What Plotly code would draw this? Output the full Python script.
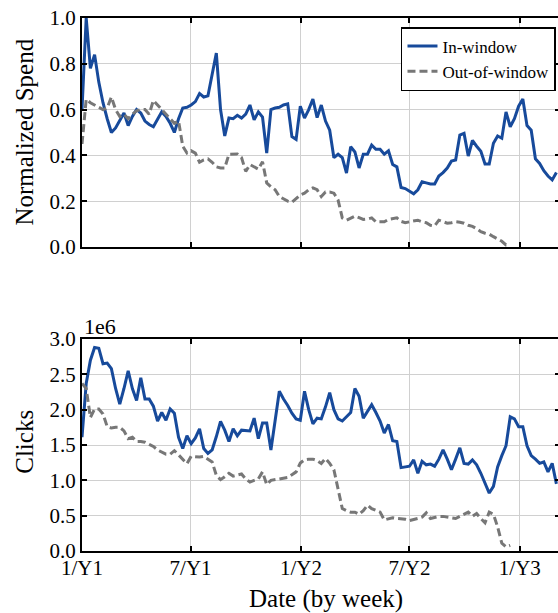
import pandas as pd
import plotly.graph_objects as go

# ---------------- data ----------------
weeks = pd.date_range("2013-01-01", periods=114, freq="7D")
tick_dates = ["2013-01-01", "2013-07-01", "2014-01-01", "2014-07-01", "2015-01-01"]
tick_labels = ["1/Y1", "7/Y1", "1/Y2", "7/Y2", "1/Y3"]

spend_in = [0.60, 1.00, 0.78, 0.84, 0.72, 0.63, 0.56, 0.50, 0.52, 0.555,
            0.585, 0.53, 0.57, 0.60, 0.585, 0.55, 0.535, 0.525, 0.56, 0.59,
            0.57, 0.54, 0.50, 0.56, 0.607, 0.61, 0.62, 0.635, 0.67, 0.655,
            0.66, 0.75, 0.847, 0.60, 0.485, 0.563, 0.56, 0.575, 0.563, 0.58,
            0.62, 0.555, 0.59, 0.567, 0.41, 0.60, 0.607, 0.61, 0.62, 0.625,
            0.482, 0.47, 0.615, 0.563, 0.60, 0.646, 0.565, 0.62, 0.55, 0.51,
            0.39, 0.405, 0.39, 0.323, 0.438, 0.415, 0.345, 0.405, 0.405, 0.445,
            0.427, 0.427, 0.405, 0.42, 0.36, 0.35, 0.26, 0.255, 0.245, 0.232,
            0.25, 0.285, 0.28, 0.275, 0.275, 0.31, 0.325, 0.345, 0.375, 0.38,
            0.489, 0.496, 0.397, 0.465, 0.44, 0.418, 0.362, 0.362, 0.453, 0.485,
            0.475, 0.59, 0.525, 0.56, 0.615, 0.646, 0.53, 0.51, 0.385, 0.365,
            0.333, 0.31, 0.293, 0.325]

spend_out = [0.45, 0.645, 0.63, 0.62, 0.61, 0.60, 0.607, 0.655, 0.60, 0.57,
             0.58, 0.56, 0.58, 0.595, 0.60, 0.60, 0.58, 0.64, 0.62, 0.60,
             0.58, 0.56, 0.54, 0.55, 0.44, 0.41, 0.42, 0.41, 0.37, 0.38,
             0.385, 0.37, 0.35, 0.345, 0.345, 0.405, 0.406, 0.406, 0.39, 0.33,
             0.36, 0.35, 0.34, 0.372, 0.28, 0.263, 0.25, 0.22, 0.21, 0.20,
             0.195, 0.21, 0.227, 0.235, 0.25, 0.258, 0.25, 0.22, 0.24, 0.24,
             0.235, 0.205, 0.127, 0.117, 0.125, 0.135, 0.128, 0.12, 0.122, 0.127,
             0.11, 0.11, 0.11, 0.12, 0.125, 0.127, 0.112, 0.106, 0.11, 0.112,
             0.117, 0.11, 0.106, 0.095, 0.092, 0.117, 0.11, 0.104, 0.106, 0.11,
             0.108, 0.104, 0.095, 0.09, 0.08, 0.067, 0.06, 0.056, 0.045, 0.035,
             0.025, 0.009, 0.009]

# clicks, in millions (axis offset label "1e6")
clicks_in = [1.61, 2.37, 2.70, 2.88, 2.87, 2.65, 2.66, 2.58, 2.30, 2.08,
             2.30, 2.55, 2.30, 2.13, 2.45, 2.15, 2.15, 2.05, 1.84, 1.96,
             1.85, 2.01, 1.95, 1.61, 1.45, 1.63, 1.52, 1.60, 1.73, 1.45,
             1.38, 1.43, 1.62, 1.835, 1.71, 1.55, 1.73, 1.63, 1.71, 1.70,
             1.70, 1.88, 1.59, 1.81, 1.81, 1.43, 1.85, 2.26, 2.15, 2.06,
             1.95, 1.87, 1.85, 2.26, 2.00, 1.80, 1.88, 1.87, 2.04, 2.24,
             2.00, 1.87, 1.84, 1.90, 1.96, 2.30, 2.19, 1.88, 1.98, 2.07,
             1.96, 1.84, 1.67, 1.79, 1.56, 1.55, 1.18, 1.19, 1.20, 1.29,
             1.10, 1.27, 1.22, 1.23, 1.20, 1.30, 1.43, 1.30, 1.15, 1.30,
             1.46, 1.24, 1.23, 1.29, 1.22, 1.10, 0.97, 0.82, 0.915, 1.19,
             1.35, 1.49, 1.90, 1.87, 1.76, 1.76, 1.49, 1.35, 1.30, 1.24,
             1.26, 1.12, 1.24, 0.95]

clicks_out = [2.37, 2.30, 1.89, 2.01, 2.01, 1.94, 1.76, 1.74, 1.75, 1.75,
              1.70, 1.59, 1.61, 1.55, 1.55, 1.54, 1.51, 1.48, 1.43, 1.40,
              1.37, 1.37, 1.42, 1.36, 1.30, 1.235, 1.34, 1.33, 1.33, 1.34,
              1.30, 1.26, 1.07, 1.01, 1.05, 1.10, 1.06, 1.07, 1.09, 1.02,
              0.976, 1.00, 1.02, 1.12, 0.94, 1.00, 1.01, 1.03, 1.04, 1.04,
              1.08, 1.12, 1.245, 1.29, 1.30, 1.30, 1.28, 1.24, 1.31, 1.24,
              1.15, 0.87, 0.60, 0.57, 0.55, 0.55, 0.52, 0.57, 0.65, 0.60,
              0.57, 0.55, 0.44, 0.45, 0.47, 0.46, 0.46, 0.45, 0.43, 0.44,
              0.46, 0.48, 0.54, 0.46, 0.48, 0.49, 0.49, 0.48, 0.47, 0.46,
              0.49, 0.52, 0.55, 0.49, 0.53, 0.46, 0.40, 0.55, 0.52, 0.34,
              0.11, 0.06, 0.08]

series_names = ["In-window", "Out-of-window"]

# ---------------- style ----------------
BLUE = "#174a9b"
GRAY = "#777777"
FONT = "Liberation Serif"
GRID = "#d0d0d0"

fig = go.Figure()
fig.add_trace(go.Scatter(x=weeks[:len(spend_in)], y=spend_in, mode="lines",
                         name=series_names[0], line=dict(color=BLUE, width=3),
                         xaxis="x", yaxis="y"))
fig.add_trace(go.Scatter(x=weeks[:len(spend_out)], y=spend_out, mode="lines",
                         name=series_names[1],
                         line=dict(color=GRAY, width=3, dash="8px,4px"),
                         xaxis="x", yaxis="y"))
fig.add_trace(go.Scatter(x=weeks[:len(clicks_in)], y=clicks_in, mode="lines",
                         name=series_names[0], showlegend=False,
                         line=dict(color=BLUE, width=3),
                         xaxis="x2", yaxis="y2"))
fig.add_trace(go.Scatter(x=weeks[:len(clicks_out)], y=clicks_out, mode="lines",
                         name=series_names[1], showlegend=False,
                         line=dict(color=GRAY, width=3, dash="8px,4px"),
                         xaxis="x2", yaxis="y2"))

# plot area runs slightly past the window's right edge (the original is cropped there)
xrange = ["2013-01-01", "2015-03-09"]
common_axis = dict(showline=True, linecolor="black", linewidth=2,
                   ticks="inside", ticklen=5, tickwidth=1.5, tickcolor="black",
                   mirror="ticks", showgrid=True, gridcolor=GRID, gridwidth=1,
                   zeroline=False, automargin=False, ticklabeloverflow="allow",
                   tickfont=dict(size=21, family=FONT, color="black"))

title_font = dict(size=25, family=FONT, color="black")

fig.update_layout(
    width=560, height=613,
    margin=dict(l=82, r=0, t=18, b=62),
    paper_bgcolor="white", plot_bgcolor="white",
    font=dict(family=FONT, color="black"),
    xaxis=dict(domain=[0, 1], anchor="y", range=xrange, tickvals=tick_dates,
               ticktext=tick_labels, showticklabels=False, **common_axis),
    yaxis=dict(domain=[0.5704, 1], anchor="x", range=[0, 1.0], dtick=0.2,
               tickformat=".1f", **common_axis),
    xaxis2=dict(domain=[0, 1], anchor="y2", range=xrange, tickvals=tick_dates,
                ticktext=tick_labels, showticklabels=True, matches="x",
                ticklabelstandoff=-3, **common_axis),
    yaxis2=dict(domain=[0, 0.3977], anchor="x2", range=[0, 3.0], dtick=0.5,
                tickformat=".1f", **common_axis),
    legend=dict(x=0.9916, y=0.983, xanchor="right", yanchor="top",
                bgcolor="white", bordercolor="black", borderwidth=1.5,
                font=dict(size=17, family=FONT)),
    showlegend=True,
    annotations=[
        dict(text="1e6", xref="paper", yref="paper", x=0, y=0.4203,
             xanchor="left", yanchor="middle", showarrow=False,
             font=dict(size=22, family=FONT, color="black")),
        dict(text="Normalized Spend", xref="paper", yref="paper", x=-0.1192,
             y=0.785, xanchor="center", yanchor="middle", textangle=-90,
             showarrow=False, font=title_font),
        dict(text="Clicks", xref="paper", yref="paper", x=-0.1192,
             y=0.205, xanchor="center", yanchor="middle", textangle=-90,
             showarrow=False, font=title_font),
        dict(text="Date (by week)", xref="paper", yref="paper", x=0.511,
             y=-0.0900, xanchor="center", yanchor="middle",
             showarrow=False, font=title_font),
    ],
)

# remove the default page margin; hide overflow past the 558px window
fig.write_html(
    "out.html",
    config={"displayModeBar": False},
    post_script="document.body.style.margin='0px';"
                "document.body.style.overflow='hidden';",
)
